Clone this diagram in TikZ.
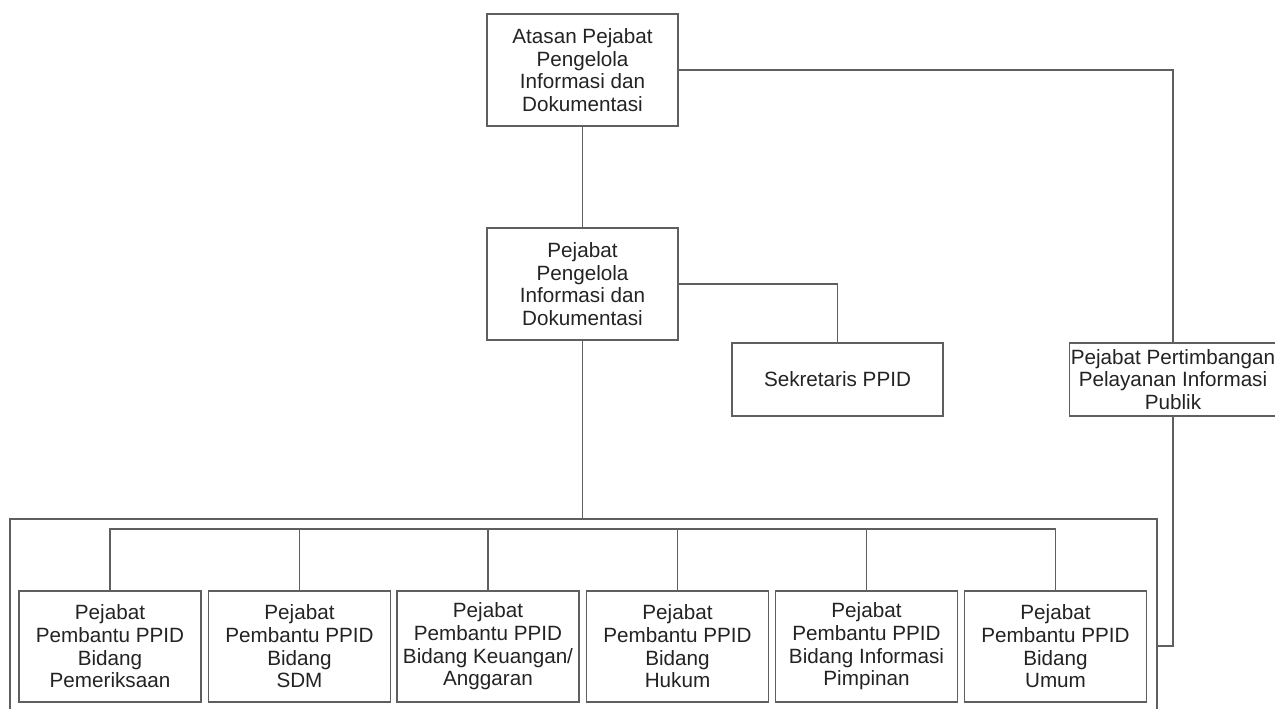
\documentclass[tikz,border=0pt]{standalone}
\usepackage{fontspec}
\setmainfont{Liberation Sans}
\usepackage{xcolor}
\usepackage{tikz}
\usetikzlibrary{positioning}

\definecolor{linegray}{RGB}{95,95,95}
\definecolor{textgray}{RGB}{35,35,35}

\begin{document}
\begin{tikzpicture}[
    x=0.75pt, y=-0.75pt,
    box/.style={draw=linegray, line width=1.3pt, inner sep=1pt, align=center, text=textgray,
        font=\fontsize{15.5}{17}\selectfont},
    topbox/.style={box, minimum width=143.25pt, minimum height=84pt},
    unitbox/.style={box, minimum width=136.5pt, minimum height=83.25pt},
    wire/.style={draw=linegray, line width=1.3pt}
]
\useasboundingbox (0,0) rectangle (1275,709);

\node[topbox] (atasan) at (582.5,70) {Atasan Pejabat\\Pengelola\\Informasi dan\\Dokumentasi};
\node[topbox] (ppid) at (582.5,284) {Pejabat\\Pengelola\\Informasi dan\\Dokumentasi};
\node[box, minimum width=158.25pt, minimum height=54.75pt] (sekretaris) at (837.5,379.5) {Sekretaris PPID};
\node[box, minimum width=154.5pt, minimum height=54.75pt] (pertimbangan) at (1173,379.5) {Pejabat Pertimbangan\\Pelayanan Informasi\\Publik};

% pejabat pembantu
\node[unitbox] (periksa) at (110,646.5) {Pejabat\\Pembantu PPID\\Bidang\\Pemeriksaan};
\node[unitbox] (sdm) at (299.5,646.5) {Pejabat\\Pembantu PPID\\Bidang\\SDM};
\node[unitbox] (keuangan) at (488,646.5) {Pejabat\\Pembantu PPID\\Bidang Keuangan/\\Anggaran};
\node[unitbox] (hukum) at (677.5,646.5) {Pejabat\\Pembantu PPID\\Bidang\\Hukum};
\node[unitbox] (pimpinan) at (866.5,646.5) {Pejabat\\Pembantu PPID\\Bidang Informasi\\Pimpinan};
\node[unitbox] (umum) at (1055.5,646.5) {Pejabat\\Pembantu PPID\\Bidang\\Umum};

% enclosing frame and bus
\coordinate (frame-sw) at (10,715);
\coordinate (frame-nw) at (10,519);
\coordinate (frame-ne) at (1157,519);
\coordinate (frame-se) at (1157,715);
\coordinate (frame-e) at (1157,646);
\coordinate (bus) at (0,529);

\draw[wire] (frame-sw) -- (frame-nw) -- (frame-ne) -- (frame-se);

\draw[wire] (atasan) -- (ppid);
\draw[wire] (atasan.east) -| (pertimbangan.north);
\draw[wire] (ppid.east) -| (sekretaris.north);
\draw[wire] (ppid.south) -- (ppid.south |- frame-nw);
\draw[wire] (pertimbangan.south) |- (frame-e);

\draw[wire] (periksa.north) |- (umum.north |- bus) -- (umum.north);
\draw[wire] (sdm.north) -- (sdm.north |- bus);
\draw[wire] (keuangan.north) -- (keuangan.north |- bus);
\draw[wire] (hukum.north) -- (hukum.north |- bus);
\draw[wire] (pimpinan.north) -- (pimpinan.north |- bus);
\end{tikzpicture}
\end{document}
